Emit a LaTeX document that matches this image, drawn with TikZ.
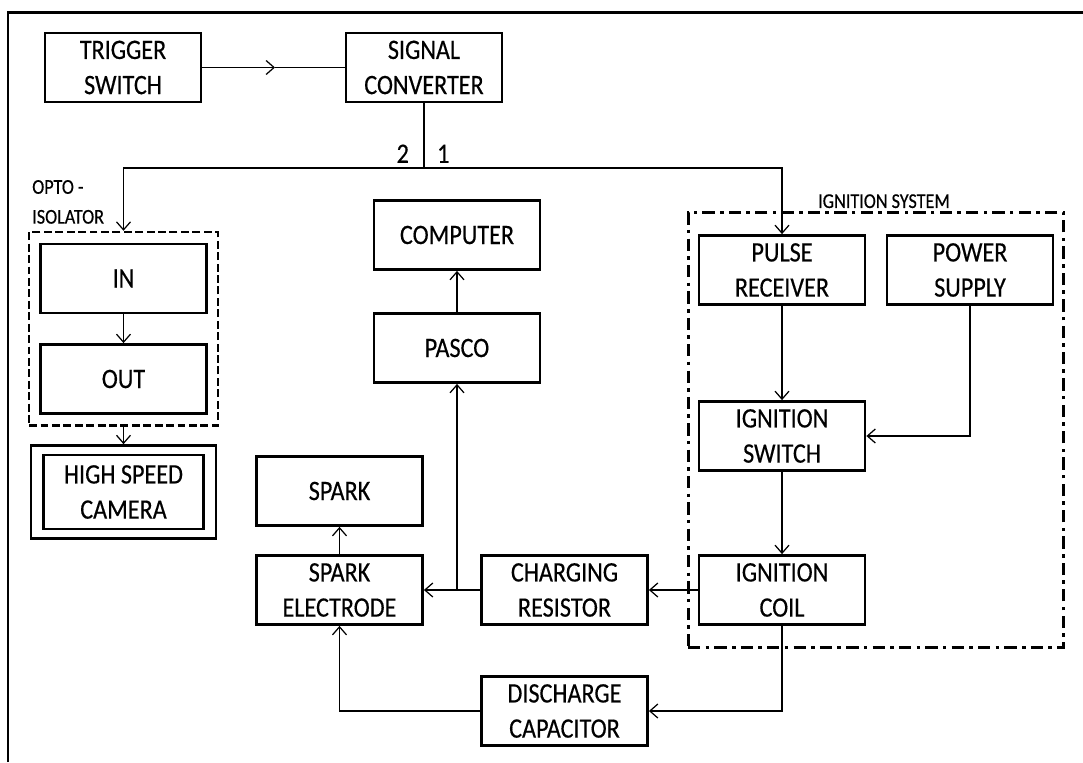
\documentclass[tikz,border=0pt]{standalone}
\usepackage{fontspec}
\setmainfont{Carlito}[FakeStretch=0.86, FakeBold=0.4]
\usetikzlibrary{calc,positioning,fit,arrows.meta}

\begin{document}
\begin{tikzpicture}[
    x=0.2mm, y=-0.2mm,
    every node/.style={font=\fontsize{16}{20}\selectfont},
    blk/.style={rectangle, draw=black, line width=1.6pt, align=center,
        inner sep=1pt, minimum width=33.2mm, minimum height=13.8mm},
    optogrp/.style={draw=black, line width=1.5pt,
        dash pattern=on 4.5pt off 2pt},
    ignsys/.style={draw=black, line width=1.7pt,
        dash pattern=on 7pt off 3pt on 2pt off 3pt},
    lbl/.style={font=\fontsize{12}{17}\selectfont, inner sep=1.5pt},
    num/.style={font=\fontsize{16}{18}\selectfont, inner sep=1pt},
    wire/.style={draw=black, line width=0.7pt},
    arr/.style={wire, -{Straight Barb[length=1.6mm,width=2.8mm]}},
]
    \useasboundingbox (0,0) rectangle (1083,762);

    % Frame
    \draw[line width=1.6pt] (8,762) -- (8,12.5) -- (1083,12.5);

    % Trigger chain
    \node[blk, minimum width=31.2mm] (trig) at (123,67.5) {TRIGGER\\SWITCH};
    \node[blk, minimum width=31.2mm] (sigc) at (424,67.5) {SIGNAL\\CONVERTER};

    % Opto-isolator
    \node[blk] (in)  at (123.5,278.5) {IN};
    \node[blk] (out) at (123.5,379)   {OUT};
    \node[optogrp, fit=(in)(out), inner xsep=2mm, inner ysep=2.1mm] (opto) {};
    \node[lbl, align=left, anchor=south west] (optolbl)
        at ([xshift=0.3mm, yshift=0.8mm]opto.north west) {OPTO -\\ISOLATOR};

    % Camera
    \node[blk, minimum width=32mm, minimum height=14.8mm] (cam) at (123.5,492)
        {HIGH SPEED\\CAMERA};
    \node[draw=black, line width=1.6pt, fit=(cam), inner xsep=2.2mm,
        inner ysep=1.6mm] (camfr) {};

    % Measurement
    \node[blk] (comp)  at (457,235) {COMPUTER};
    \node[blk] (pasco) at (457,348) {PASCO};

    % Spark circuit
    \node[blk] (spark)   at (339.5,491) {SPARK};
    \node[blk] (sparkel) at (339.5,590) {SPARK\\ELECTRODE};
    \node[blk] (chres)   at (564.5,590) {CHARGING\\RESISTOR};
    \node[blk] (disch)   at (564.5,711) {DISCHARGE\\CAPACITOR};

    % Ignition system
    \node[blk] (pulse) at (782,270) {PULSE\\RECEIVER};
    \node[blk] (power) at (970,270) {POWER\\SUPPLY};
    \node[blk] (igsw)  at (782,436) {IGNITION\\SWITCH};
    \node[blk] (coil)  at (782,590) {IGNITION\\COIL};
    \node[ignsys, fit=(pulse)(power)(igsw)(coil), inner xsep=1.9mm,
        inner ysep=4.3mm] (igsys) {};
    \node[lbl, anchor=south] (igslbl)
        at ([xshift=1.6mm]igsys.north) {IGNITION SYSTEM};

    % Edges
    \coordinate (tsmid) at (275,67.5);
    \draw[arr]  (trig) -- (tsmid);
    \draw[wire] (tsmid) -- (sigc);

    \coordinate (split) at (424,168);
    \draw[wire] (sigc) -- (split);
    \node[num, anchor=south east] (n2) at ([xshift=-2.6mm, yshift=0.6mm]split) {2};
    \node[num, anchor=south west] (n1) at ([xshift=2.2mm, yshift=0.6mm]split) {1};
    \draw[arr] (split) -| (opto.north);
    \draw[arr] (split) -| (pulse.north);

    \draw[arr] (in) -- (out);
    \draw[arr] (opto) -- (camfr);

    \draw[arr] (pulse) -- (igsw);
    \draw[arr] (power) |- (igsw);
    \draw[arr] (igsw) -- (coil);
    \draw[arr] (coil) -- (chres);
    \draw[arr] (chres) -- (sparkel);

    \coordinate (tap) at (pasco.south |- chres.west);
    \draw[arr] (tap) -- (pasco);
    \draw[arr] (pasco) -- (comp);
    \draw[arr] (sparkel) -- (spark);

    \draw[arr] (coil) |- (disch);
    \draw[arr] (disch) -| (sparkel);
\end{tikzpicture}
\end{document}
